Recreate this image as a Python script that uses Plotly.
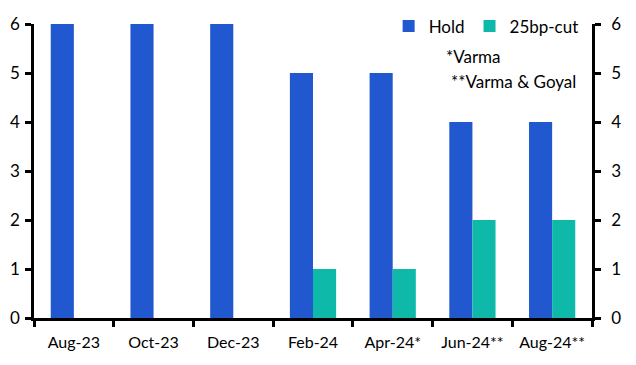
import plotly.graph_objects as go

categories = ["Aug-23", "Oct-23", "Dec-23", "Feb-24", "Apr-24*", "Jun-24**", "Aug-24**"]
hold = [6, 6, 6, 5, 5, 4, 4]
cut = [0, 0, 0, 1, 1, 2, 2]
yticks = [0, 1, 2, 3, 4, 5, 6]

FONT = "Lato"
FS = 16
fig = go.Figure()
fig.add_trace(go.Bar(x=categories, y=hold, name="Hold", marker_color="#2258CF", marker_line_width=0))
fig.add_trace(go.Bar(x=categories, y=cut, name="25bp-cut", marker_color="#0FB9AA", marker_line_width=0))
fig.add_trace(go.Scatter(x=categories, y=hold, yaxis="y2", mode="markers", marker_opacity=0,
                         showlegend=False, hoverinfo="skip"))

axis_common = dict(range=[0, 6], tickvals=yticks, showline=True, linecolor="black", linewidth=2.5,
                   ticks="outside", ticklen=6, tickwidth=2.5, tickcolor="black", showgrid=False,
                   zeroline=False, automargin=False,
                   tickfont=dict(size=FS + 1, color="black", family=FONT))

fig.update_layout(
    width=628, height=357,
    margin=dict(l=26, r=44, t=16, b=47, autoexpand=False),
    plot_bgcolor="white", paper_bgcolor="white",
    barmode="group", bargap=0.42, bargroupgap=0,
    font=dict(family=FONT, size=FS, color="black"),
    xaxis=dict(showline=True, linecolor="black", linewidth=2.5, ticks="outside", ticklen=6,
               tickwidth=2.5, tickcolor="black", tickson="boundaries", showgrid=False,
               tickangle=0, automargin=False, ticklabelstandoff=8,
               tickfont=dict(size=FS, color="black", family=FONT)),
    yaxis=dict(side="left", ticklabelstandoff=2, **axis_common),
    yaxis2=dict(side="right", overlaying="y", ticklabelstandoff=7, **axis_common),
    legend=dict(orientation="h", x=0.985, xanchor="right", y=1.053, yanchor="top",
                font=dict(size=FS + 1, family=FONT), bgcolor="rgba(0,0,0,0)",
                traceorder="normal"),
    annotations=[
        dict(text="*Varma", xref="paper", yref="paper", x=0.787, y=0.888, xanchor="center",
             yanchor="middle", showarrow=False, font=dict(size=FS + 1, family=FONT)),
        dict(text="**Varma & Goyal", xref="paper", yref="paper", x=0.975, y=0.806, xanchor="right",
             yanchor="middle", showarrow=False, font=dict(size=FS + 1, family=FONT)),
    ],
)
fig.write_html("out.html")
